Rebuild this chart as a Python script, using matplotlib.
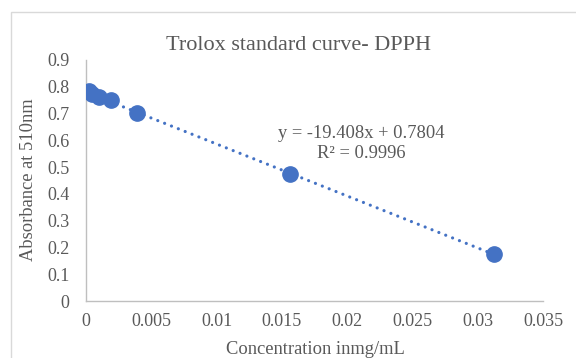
import numpy as np
import matplotlib
matplotlib.use("Agg")
from matplotlib import pyplot as plt
from matplotlib.patches import Rectangle

# data
conc = [0.000244, 0.000488, 0.000977, 0.00195, 0.0039, 0.0156, 0.03125]
absorb = [0.783, 0.773, 0.762, 0.752, 0.703, 0.476, 0.177]
x_ticks = [0, 0.005, 0.01, 0.015, 0.02, 0.025, 0.03, 0.035]
x_tick_labels = ["0", "0.005", "0.01", "0.015", "0.02", "0.025", "0.03", "0.035"]
y_ticks = [0, 0.1, 0.2, 0.3, 0.4, 0.5, 0.6, 0.7, 0.8, 0.9]
slope = -19.408
intercept = 0.7804
r2 = 0.9996

plt.rcParams['font.family'] = ['Liberation Serif', 'DejaVu Serif']
txt = '#595959'
blue = '#4472C4'

fig = plt.figure(figsize=(5.76, 3.58), dpi=100)
fig.patches.append(Rectangle((11/576, -0.1), 1.2, 1 - 12/358 + 0.1,
                             transform=fig.transFigure, fill=False,
                             edgecolor='#d9d9d9', linewidth=1))
ax = fig.add_axes([86/576, 1 - 301/358, 457/576, 241/358])

# linear trendline, dotted
xs = np.array([min(conc), max(conc)])
ax.plot(xs, slope * xs + intercept, linestyle=(0, (0.01, 2.3)), color=blue,
        linewidth=2.3, dash_capstyle='round', zorder=2)
ax.plot(conc, absorb, 'o', color=blue, markersize=11, zorder=3)

ax.set_xlim(0, 0.035)
ax.set_ylim(0, 0.9)
ax.set_xticks(x_ticks)
ax.set_xticklabels(x_tick_labels)
ax.set_yticks(y_ticks)
ax.set_yticklabels([f"{v:g}" for v in y_ticks])
ax.tick_params(length=0, labelsize=13, colors=txt)
ax.tick_params(axis='x', pad=9)
ax.tick_params(axis='y', pad=12)
for s in ['top', 'right']:
    ax.spines[s].set_visible(False)
for s in ['left', 'bottom']:
    ax.spines[s].set_color('#bfbfbf')
    ax.spines[s].set_linewidth(1)

fig.text(298/576, 1 - 45/358, "Trolox standard curve- DPPH", ha='center',
         va='center', fontsize=16, color=txt)
fig.text(315/576, 1 - 349/358, "Concentration inmg/mL", ha='center',
         va='center', fontsize=13.3, color=txt)
fig.text(29/576, 1 - 180/358, "Absorbance at 510nm", ha='center',
         va='center', rotation=90, fontsize=13.3, color=txt)
fig.text(361/576, 1 - 134/358, f"y = {slope}x + {intercept}", ha='center',
         va='center', fontsize=13.3, color=txt)
fig.text(361/576, 1 - 153/358, f"R² = {r2}", ha='center',
         va='center', fontsize=13.3, color=txt)

fig.savefig("out.png", dpi=100)
